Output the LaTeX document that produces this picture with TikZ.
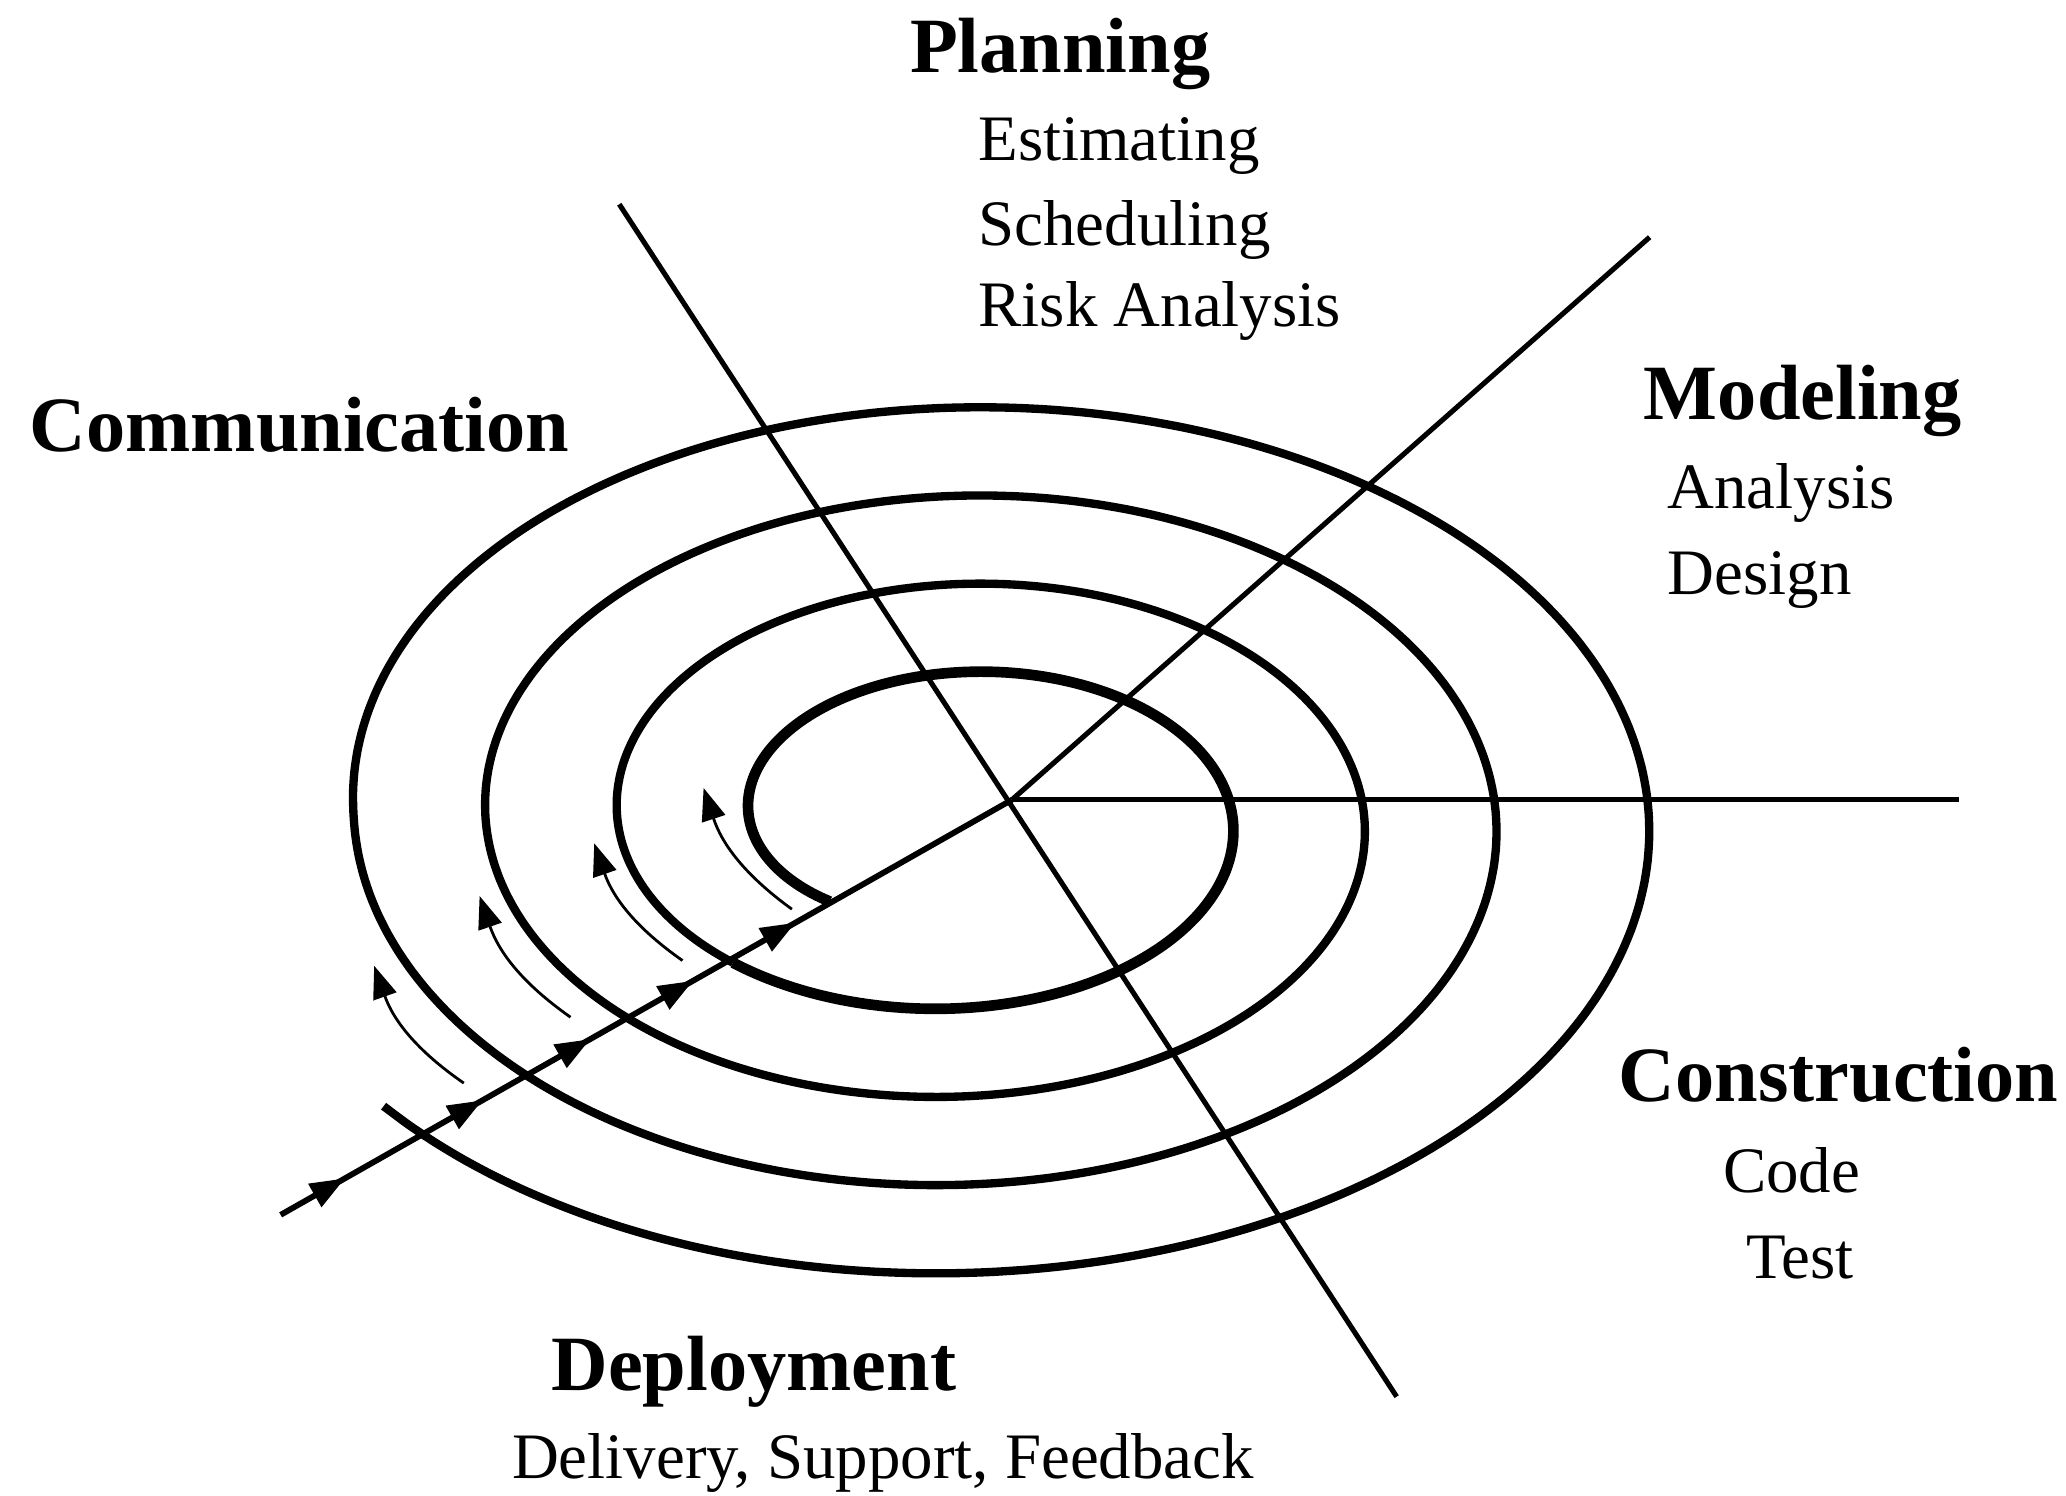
\documentclass[tikz,border=0pt]{standalone}
\usepackage{fontspec}
\setmainfont{Liberation Serif}
\usetikzlibrary{arrows.meta,decorations.markings}
\begin{document}
\begin{tikzpicture}[x=0.01cm,y=-0.01cm,
  head/.style={font=\fontsize{16.9}{18}\selectfont\bfseries, anchor=base west, inner sep=0pt},
  sub/.style={font=\fontsize{14}{16}\selectfont, anchor=base west, inner sep=0pt},
  axis/.style={line width=1.1pt},
  ring/.style={line width=1.8pt},
  flow/.style={-{Triangle[length=7pt,width=5.2pt]}, line width=0.6pt},
  mid/.style={decoration={markings,
     mark=at position 0.088 with {\arrow{Triangle[length=7.5pt,width=5.5pt]}},
     mark=at position 0.276 with {\arrow{Triangle[length=7.5pt,width=5.5pt]}},
     mark=at position 0.4234 with {\arrow{Triangle[length=7.5pt,width=5.5pt]}},
     mark=at position 0.564 with {\arrow{Triangle[length=7.5pt,width=5.5pt]}},
     mark=at position 0.704 with {\arrow{Triangle[length=7.5pt,width=5.5pt]}}},
     postaction={decorate}},
]
\useasboundingbox (0,0) rectangle (1568,1135);

% axes
\coordinate (O) at (768,607);
\coordinate (pTop) at (470,155);
\coordinate (pBot) at (1060,1060);
\coordinate (mEnd) at (1252,180);
\coordinate (hEnd) at (1487,607);
\coordinate (llEnd) at (213,922);

% spiral
\draw[line width=2.3pt] plot[domain=132:494, samples=120, smooth, variable=\t]
  ({727 + (158.5 + (\t-180)/360*100)*cos(\t)}, {621 + (110.75 + (\t-270)/360*67)*sin(\t)});
\draw[ring] plot[domain=494:1582, samples=360, smooth, variable=\t]
  ({727 + (158.5 + (\t-180)/360*100 + 16*(\t>1260)*max(0,cos((\t-1440)/2)))*cos(\t)}, {621 + (110.75 + (\t-270)/360*67)*sin(\t)});

\draw[axis] (pTop) -- (pBot);
\draw[axis] (O) -- (mEnd);
\draw[axis] (O) -- (hEnd);
\draw[axis, line width=1.25pt, mid] (llEnd) -- (O);

% flow arrows
\coordinate (a1s) at (352,822); \coordinate (a1e) at (284,733);
\coordinate (a2s) at (433,772); \coordinate (a2e) at (364,680);
\coordinate (a3s) at (518,729); \coordinate (a3e) at (451,640);
\coordinate (a4s) at (601,690); \coordinate (a4e) at (534,598);
\draw[flow] (a1s) to[bend left=18] (a1e);
\draw[flow] (a2s) to[bend left=18] (a2e);
\draw[flow] (a3s) to[bend left=18] (a3e);
\draw[flow] (a4s) to[bend left=18] (a4e);

% labels
\node[head] (plan) at (690,55) {Planning};
\node[sub] (est) at (742,122) {Estimating};
\node[sub] (sch) at (742,186) {Scheduling};
\node[sub] (risk) at (742,248) {Risk Analysis};
\node[head] (comm) at (22,343) {Communication};
\node[head] (model) at (1247,318) {Modeling};
\node[sub] (ana) at (1265,386) {Analysis};
\node[sub] (des) at (1265,451) {Design};
\node[head] (cons) at (1228,836) {Construction};
\node[sub] (code) at (1307,905) {Code};
\node[sub] (test) at (1325,970) {Test};
\node[head] (dep) at (418,1055) {Deployment};
\node[sub] (deliv) at (388,1122) {Delivery, Support, Feedback};
\end{tikzpicture}
\end{document}
